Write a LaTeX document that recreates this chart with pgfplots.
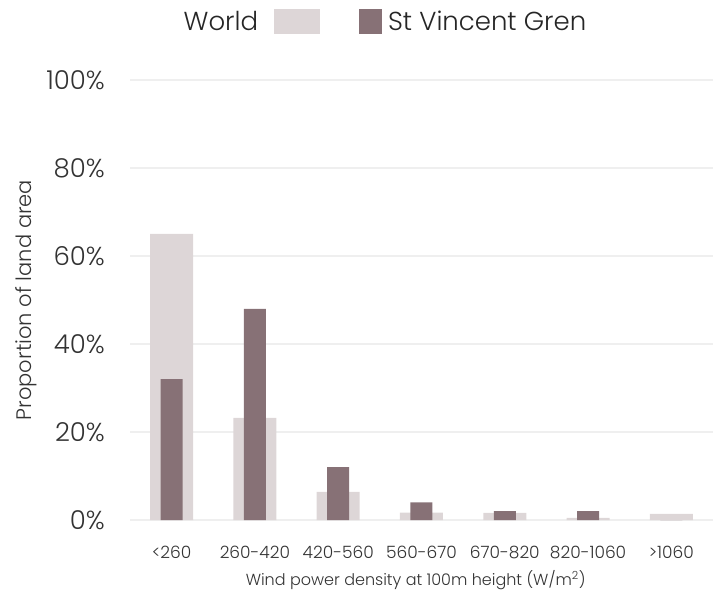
\documentclass[border=0pt]{standalone}
\usepackage{pgfplots}
\pgfplotsset{compat=1.18}
\usepackage{fontspec}
\setmainfont{Poppins Light}

\definecolor{worldc}{HTML}{DDD6D7}
\definecolor{svc}{HTML}{877176}
\definecolor{gridc}{HTML}{EFEFEF}
\definecolor{txt}{HTML}{333333}

\begin{document}
\begin{tikzpicture}
\path[use as bounding box] (-130pt,-75pt) rectangle (591pt,520pt);
\begin{axis}[
    at={(0,0)}, anchor=south west,
    scale only axis, width=583pt, height=440pt,
    axis line style={draw=none},
    ymin=0, ymax=100, xmin=-0.5, xmax=6.5,
    ytick={0,20,40,60,80,100},
    yticklabel={\pgfmathprintnumber{\tick}\%},
    xtick={0,1,2,3,4,5,6},
    xticklabels={<260,260-420,420-560,560-670,670-820,820-1060,>1060},
    /pgf/number format/assume math mode=true,
    major tick length=0pt, tick style={draw=none},
    ymajorgrids, major grid style={color=gridc, line width=1.3pt},
    y tick label style={font=\fontsize{26}{30}\selectfont, text=txt, inner sep=0pt, anchor=east, xshift=-25pt},
    x tick label style={font=\fontsize{17}{20}\selectfont, text=txt, inner sep=0pt, anchor=north, yshift=-26pt},
    xlabel={Wind power density at 100m height (W/m\textsuperscript{2})},
    xlabel style={at={(axis description cs:0.49,0)}, anchor=center, yshift=-60pt, font=\fontsize{16}{19}\selectfont, text=txt},
    ylabel={Proportion of land area},
    ylabel style={at={(axis description cs:-0.178,0.5)}, anchor=center, font=\fontsize{21}{25}\selectfont, text=txt},
    legend columns=3,
    legend style={at={(axis description cs:0.437,1.132)}, anchor=center, draw=none,
        font=\fontsize{26}{30}\selectfont, text=black!85, column sep=0pt,
        nodes={inner sep=0pt, anchor=west}},
]
% world share per class
\addlegendimage{legend image code/.code={\path (0pt,0pt);}}
\addlegendentry{World}
\addplot[ybar, bar width=43pt, bar shift=0pt, fill=worldc, draw=none,
    legend image code/.code={\path (0pt,0pt); \fill[worldc] (16pt,-12.5pt) rectangle (62pt,12.5pt); \path (100pt,0pt);}]
    coordinates {(0,65) (1,23.2) (2,6.4) (3,1.7) (4,1.6) (5,0.5) (6,1.4)};
\addlegendentry{}
% St Vincent and the Grenadines
\addplot[ybar, bar width=22pt, bar shift=0pt, fill=svc, draw=none,
    legend image code/.code={\fill[svc] (0pt,-12.5pt) rectangle (23pt,12.5pt); \path (29pt,0pt);}]
    coordinates {(0,32) (1,48) (2,12) (3,4.0) (4,2.0) (5,2.0) (6,0)};
\addlegendentry{St Vincent Gren}
\end{axis}
\end{tikzpicture}
\end{document}
